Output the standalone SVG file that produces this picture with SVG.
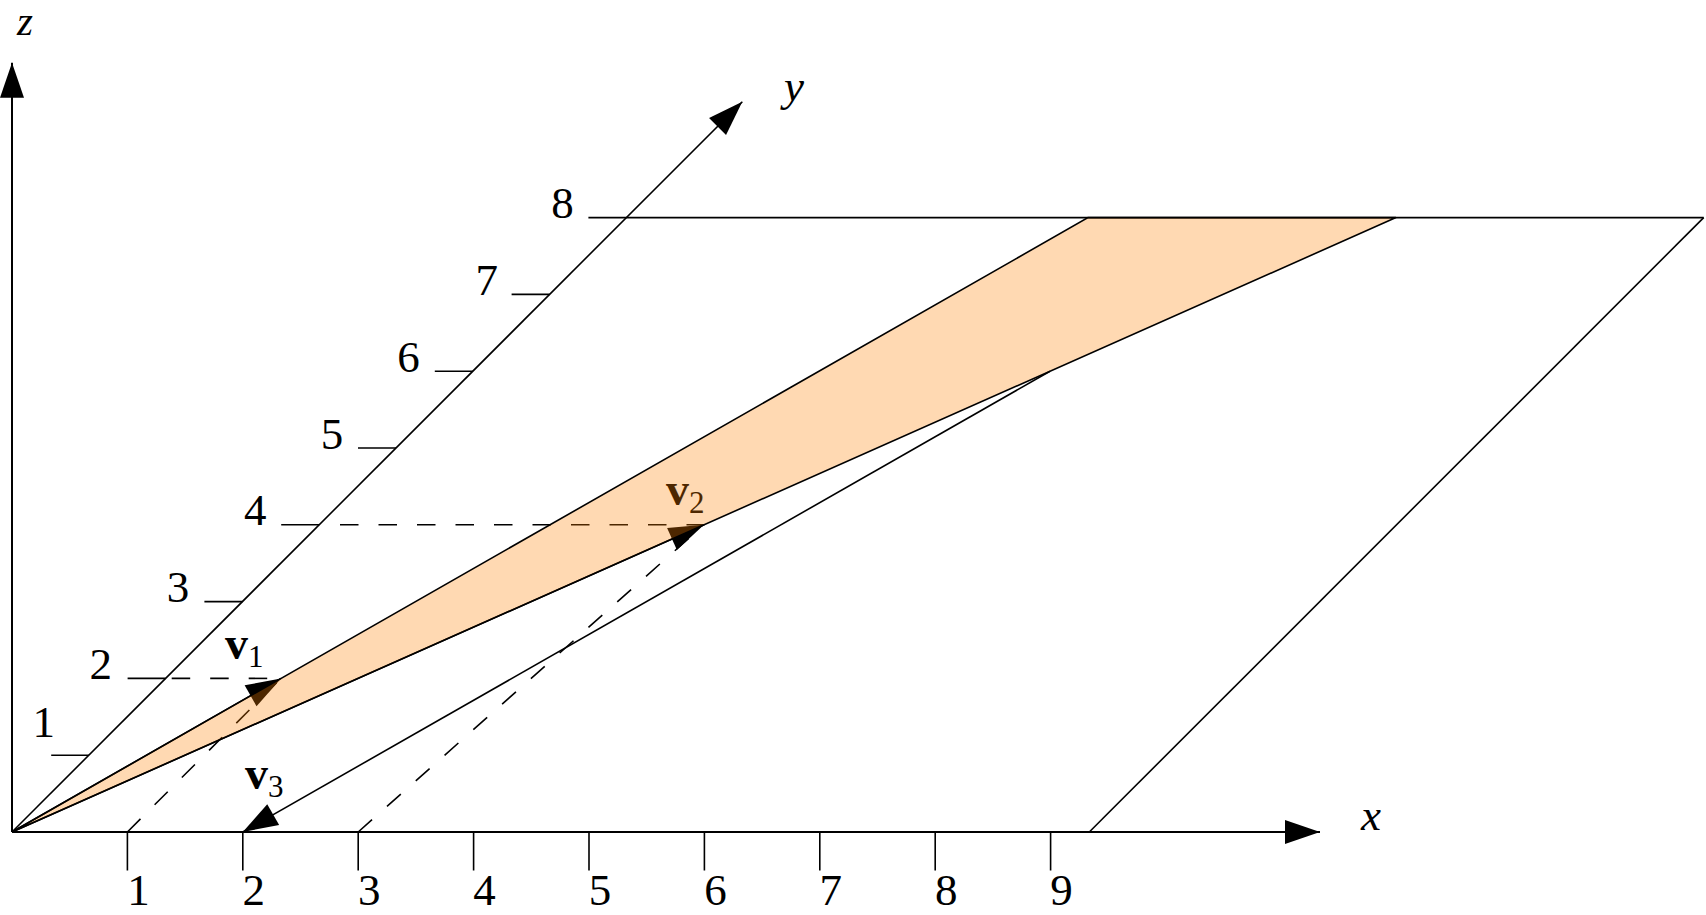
<svg xmlns="http://www.w3.org/2000/svg" width="1706" height="915" viewBox="0 0 1706 915">
<style>
.ax{stroke:#000;stroke-width:2;fill:none}
.ln{stroke:#000;stroke-width:1.6;fill:none}
.ds{stroke:#000;stroke-width:1.6;fill:none;stroke-dasharray:18.5 20}
.num{font-family:"Liberation Serif",serif;font-size:45px;fill:#000;text-anchor:middle}
.var{font-family:"Liberation Serif",serif;font-size:45px;font-style:italic;fill:#000;text-anchor:middle}
.vec{font-family:"Liberation Serif",serif;font-size:46px;font-weight:bold;fill:#000}
.sub{font-size:31px;font-weight:normal}
</style>
<defs>
<marker id="arr" markerUnits="userSpaceOnUse" markerWidth="40" markerHeight="30" refX="35" refY="12" orient="auto" overflow="visible">
<path d="M0,0 L35,12 L0,24 Z" fill="#000"/>
</marker>
</defs>

<g id="axes">
<line class="ax" x1="12" y1="832" x2="1320" y2="832" marker-end="url(#arr)"/>
<line class="ax" x1="12" y1="832" x2="12" y2="62.7" marker-end="url(#arr)"/>
<line class="ln" x1="12" y1="832" x2="742.3" y2="101.7" marker-end="url(#arr)"/>
<text class="var" x="25" y="35" style="font-size:41px">z</text>
<text class="var" x="794" y="101">y</text>
<text class="var" x="1371" y="830">x</text>
</g>

<g id="x-ticks">
<path class="ln" d="M127.4,832V870.5M242.8,832V870.5M358.2,832V870.5M473.6,832V870.5M589,832V870.5M704.4,832V870.5M819.8,832V870.5M935.2,832V870.5M1050.6,832V870.5"/>
<text class="num" x="138.4" y="905">1</text>
<text class="num" x="253.8" y="905">2</text>
<text class="num" x="369.2" y="905">3</text>
<text class="num" x="484.6" y="905">4</text>
<text class="num" x="600" y="905">5</text>
<text class="num" x="715.4" y="905">6</text>
<text class="num" x="830.8" y="905">7</text>
<text class="num" x="946.2" y="905">8</text>
<text class="num" x="1061.6" y="905">9</text>
</g>

<g id="y-ticks">
<path class="ln" d="M51.2,755.2H88.8M127.6,678.4H165.6M204.4,601.6H242.4M281.2,524.8H319.2M358,448H396M434.8,371.2H472.8M511.6,294.4H549.6"/>
<text class="num" x="43.7" y="737">1</text>
<text class="num" x="100.7" y="679.3">2</text>
<text class="num" x="178" y="602">3</text>
<text class="num" x="255.3" y="525">4</text>
<text class="num" x="332" y="448.5">5</text>
<text class="num" x="408.5" y="371.7">6</text>
<text class="num" x="486.7" y="295">7</text>
<text class="num" x="562.5" y="218.3">8</text>
</g>

<g id="plane">
<line class="ln" x1="588.4" y1="217.6" x2="1703.7" y2="217.6"/>
<line class="ln" x1="1089.3" y1="832" x2="1703.7" y2="217.6"/>
</g>

<g id="guides">
<line class="ds" x1="171.7" y1="678.4" x2="281" y2="678.4"/>
<line class="ds" x1="340" y1="524.8" x2="704" y2="524.8"/>
<line class="ds" x1="127.4" y1="832" x2="281" y2="678.4"/>
<line class="ds" x1="358.2" y1="832" x2="704" y2="524.8"/>
</g>

<g id="vectors">
<line class="ln" x1="12" y1="832" x2="281" y2="678.4" marker-end="url(#arr)"/>
<line class="ln" x1="12" y1="832" x2="704" y2="524.8" marker-end="url(#arr)"/>
<line class="ln" x1="1050" y1="371.2" x2="242.8" y2="832" marker-end="url(#arr)"/>
<text class="vec" x="225" y="659">v<tspan class="sub" dy="7.5">1</tspan></text>
<text class="vec" x="666" y="505">v<tspan class="sub" dy="8">2</tspan></text>
<text class="vec" x="245" y="789">v<tspan class="sub" dy="8">3</tspan></text>
</g>

<g id="band">
<polygon points="12,832 1088,217.6 1396,217.6" fill="#ff8000" fill-opacity="0.3" stroke="#000" stroke-width="1.6" stroke-linejoin="miter"/>
</g>
</svg>
